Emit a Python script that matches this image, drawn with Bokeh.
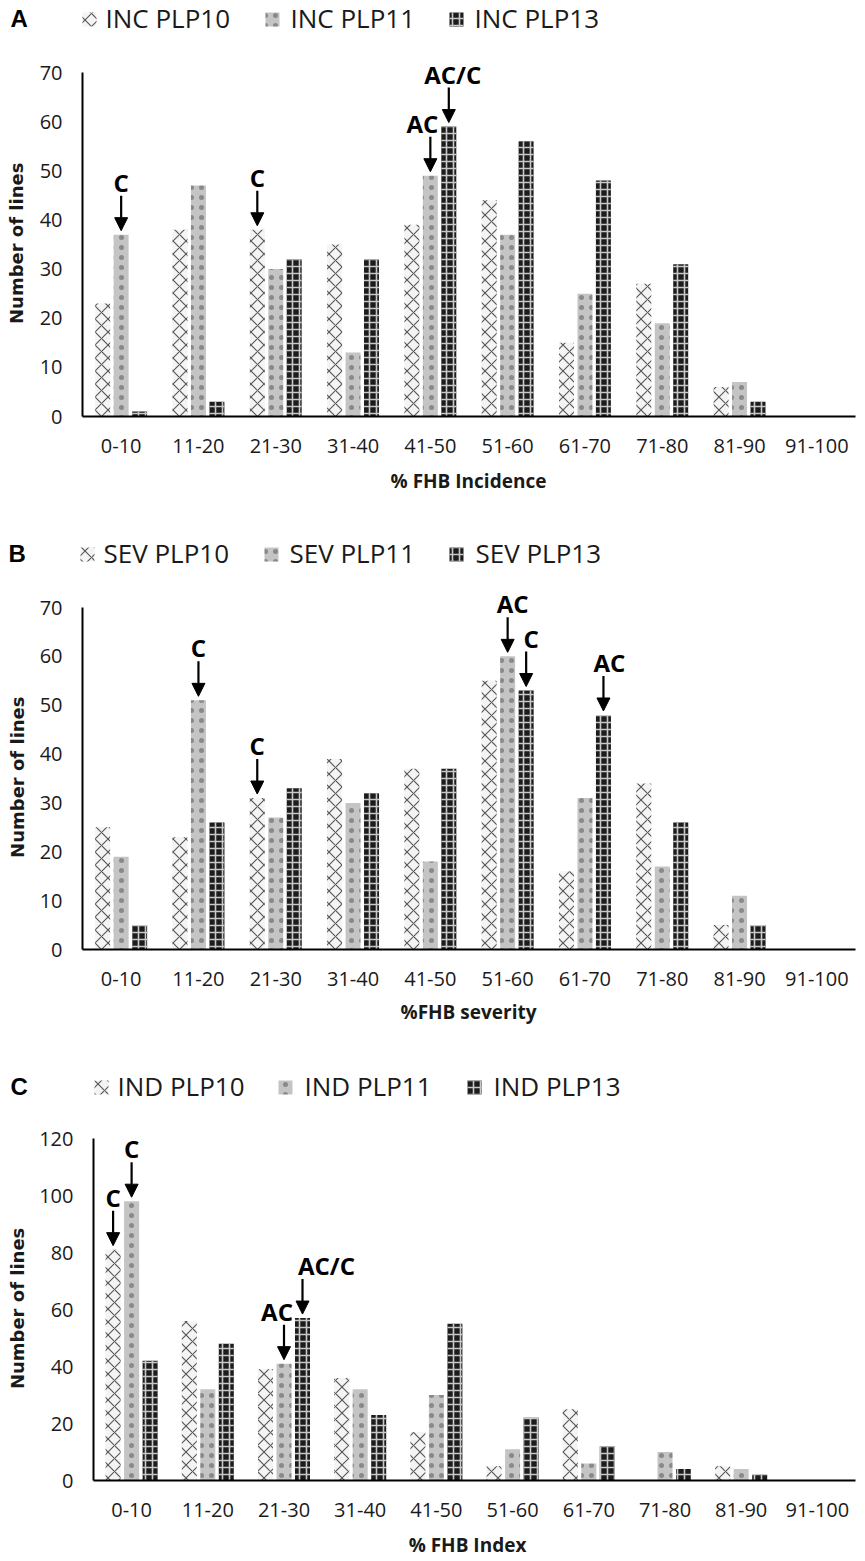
import math
from bokeh.plotting import figure
from bokeh.models import FactorRange, Range1d, FixedTicker, Label, Arrow, NormalHead, ColumnDataSource
from bokeh.layouts import column, row
from bokeh.transform import dodge
from bokeh.core.properties import value
from bokeh.embed import file_html
from bokeh.resources import INLINE

categories = ["0-10", "11-20", "21-30", "31-40", "41-50", "51-60", "61-70", "71-80", "81-90", "91-100"]
series_names = ["PLP10", "PLP11", "PLP13"]

inc_plp10 = [23, 38, 38, 35, 39, 44, 15, 27, 6, 0]
inc_plp11 = [37, 47, 30, 13, 49, 37, 25, 19, 7, 0]
inc_plp13 = [1, 3, 32, 32, 59, 56, 48, 31, 3, 0]

sev_plp10 = [25, 23, 31, 39, 37, 55, 16, 34, 5, 0]
sev_plp11 = [19, 51, 27, 30, 18, 60, 31, 17, 11, 0]
sev_plp13 = [5, 26, 33, 32, 37, 53, 48, 26, 5, 0]

ind_plp10 = [81, 56, 39, 36, 17, 5, 25, 0, 5, 0]
ind_plp11 = [98, 32, 41, 32, 30, 11, 6, 10, 4, 0]
ind_plp13 = [42, 48, 57, 23, 55, 22, 12, 4, 2, 0]

ticks_70 = [0, 10, 20, 30, 40, 50, 60, 70]
ticks_120 = [0, 20, 40, 60, 80, 100, 120]

# (category, series index, text)
inc_marks = [("0-10", 1, "C"), ("21-30", 0, "C"), ("41-50", 1, "AC"), ("41-50", 2, "AC/C")]
sev_marks = [("11-20", 1, "C"), ("21-30", 0, "C"), ("51-60", 1, "AC"), ("51-60", 2, "C"), ("61-70", 2, "AC")]
ind_marks = [("0-10", 0, "C"), ("0-10", 1, "C"), ("21-30", 1, "AC"), ("21-30", 2, "AC/C")]

W = 865          # page width (the page is rendered without body margin)
YL_W = 36        # width of the strip holding the y-axis title
FONT = "Open Sans"
TXT = "#1a1a1a"
BASE_FIX = 0.355  # observed drop of "alphabetic" text below its anchor, in em

STYLES = [
    dict(fill_color="#f4f4f4", hatch_pattern="diagonal_cross", hatch_color="#555555", hatch_scale=13, hatch_weight=1.1),
    dict(fill_color="#c4c4c4", hatch_pattern="dot", hatch_color="#000000", hatch_scale=10, hatch_alpha=0.3),
    dict(fill_color="#1c1c1c", hatch_pattern="cross", hatch_color="#c8c8c8", hatch_scale=7, hatch_weight=1.6),
]


def aux_fig(x0, top, w, h):
    """Plain figure; x data = page pixel, y data = height above its bottom."""
    p = figure(width=w, height=h, x_range=Range1d(x0, x0 + w), y_range=Range1d(0, h),
               output_backend="svg", toolbar_location=None, x_axis_type=None, y_axis_type=None,
               min_border_left=0, min_border_right=0, min_border_top=0, min_border_bottom=0)
    p.outline_line_color = None
    p.background_fill_color = "white"
    return p


def add_text(p, top, h, x, y, text, size, **kw):
    # y is the wanted page baseline
    p.text(x=[x], y=[top + h - (y - BASE_FIX * size)], text=[text], text_baseline="alphabetic",
           text_font_size=value(f"{size}px"), **kw)


def add_header(p, top, h, letter, prefix, g):
    add_text(p, top, h, g["letter_x"], g["leg_y"], letter, 24, text_font=value("Liberation Sans"),
             text_font_style="bold", text_color="black")
    sw = 14
    for i, name in enumerate(series_names):
        p.rect(x=[g["sw_x"][i] + sw / 2], y=[top + h - (g["leg_y"] - 8)], width=sw, height=sw,
               line_color=None, **STYLES[i])
        add_text(p, top, h, g["txt_x"][i], g["leg_y"], f"{prefix} {name}", 26, text_font=value(FONT),
                 text_color=TXT)


def add_xtitle(p, top, h, g, text):
    add_text(p, top, h, g["xt"][0], g["xt"][1], text, 19, text_font=value(FONT), text_font_style="bold",
             text_align="center", text_color=TXT)


def make_chart(vals, marks, ticks, g):
    left, right, top, zero, ymaxpx, H = g["left"], g["right"], g["top"], g["zero"], g["ymaxpx"], g["H"]
    fig_x0 = YL_W
    cw = W - YL_W
    frame_w = right - left
    frame_h = zero - top
    ppu = (zero - ymaxpx) / ticks[-1]
    cat_px = frame_w / len(categories)

    p = figure(x_range=FactorRange(factors=categories), y_range=Range1d(0, frame_h / ppu),
               width=cw, height=H, output_backend="svg", toolbar_location=None,
               min_border_left=left - fig_x0, min_border_right=fig_x0 + cw - right,
               min_border_top=0, min_border_bottom=H - frame_h)
    p.outline_line_color = None
    p.xgrid.visible = False
    p.ygrid.visible = False
    p.background_fill_color = "white"

    for ax in (p.xaxis[0], p.yaxis[0]):
        ax.axis_line_width = 2
        ax.axis_line_color = "black"
        ax.major_tick_line_color = None
        ax.minor_tick_line_color = None
        ax.major_tick_out = 0
        ax.major_tick_in = 0
        ax.minor_tick_out = 0
        ax.major_label_text_font = FONT
        ax.major_label_text_font_size = "20px"
        ax.major_label_text_color = TXT
    p.xaxis.major_label_standoff = 22
    p.yaxis.major_label_standoff = 20
    p.yaxis.ticker = FixedTicker(ticks=ticks)
    p.yaxis.bounds = (0, ticks[-1])

    bw = 15 / cat_px
    step = 18.5 / cat_px
    for i, v in enumerate(vals):
        src = ColumnDataSource(dict(x=categories, top=v))
        p.vbar(x=dodge("x", (i - 1) * step, range=p.x_range), top="top", width=bw, bottom=0,
               source=src, line_color=None, **STYLES[i])

    for (cat, si, txt), ddx in zip(marks, g["mark_dx"]):
        ci = categories.index(cat)
        xc = ci + 0.5 + (si - 1) * step
        v = vals[si][ci]
        tip = v + 4 / ppu
        start = tip + 35 / ppu
        p.add_layout(Arrow(end=NormalHead(size=13, fill_color="black", line_color="black", line_width=1),
                           x_start=xc, y_start=start, x_end=xc, y_end=tip,
                           line_width=2.2, line_color="black"))
        p.add_layout(Label(x=xc + ddx / cat_px, y=start + (5 + BASE_FIX * 24) / ppu, text=txt,
                           text_font=FONT, text_font_style="bold", text_font_size="24px",
                           text_align="center", text_baseline="alphabetic", text_color="black"))

    # y axis title in a narrow strip at the left
    yl = aux_fig(0, top, YL_W, H)
    mid = (zero + ymaxpx) / 2 + g["ylab_dy"]
    yl.text(x=[g["ylab_x"]], y=[top + H - mid], text=["Number of lines"], angle=math.pi / 2,
            text_font=value("DejaVu Sans"), text_font_style="bold", text_font_size=value("18px"),
            text_align="center", text_baseline="middle", text_color=TXT)
    return row(yl, p, spacing=0)


geo_a = dict(left=80, right=855, top=52, zero=416, ymaxpx=72, H=414,
             letter_x=10, sw_x=(82, 265, 449), txt_x=(105, 290, 474), leg_y=27,
             ylab_x=16, ylab_dy=25, xt=(468, 487), mark_dx=(0, 0, -8, 4))
geo_b = dict(left=82, right=855, top=585, zero=949, ymaxpx=607, H=414,
             letter_x=8, sw_x=(80, 264, 449), txt_x=(103, 289, 475), leg_y=562,
             ylab_x=17, ylab_dy=25, xt=(468, 1018), mark_dx=(0, 0, 5, 5, 6))
geo_c = dict(left=93, right=855, top=1120, zero=1480, ymaxpx=1138, H=410,
             letter_x=10, sw_x=(94, 278, 467), txt_x=(117, 304, 493), leg_y=1095,
             ylab_x=17, ylab_dy=25, xt=(467, 1551), mark_dx=(0, 0, -7, 24))

hA = aux_fig(0, 0, W, 52)
add_header(hA, 0, 52, "A", "INC", geo_a)
chart_a = make_chart([inc_plp10, inc_plp11, inc_plp13], inc_marks, ticks_70, geo_a)

gAB = aux_fig(0, 466, W, 119)
add_xtitle(gAB, 466, 119, geo_a, "% FHB Incidence")
add_header(gAB, 466, 119, "B", "SEV", geo_b)
chart_b = make_chart([sev_plp10, sev_plp11, sev_plp13], sev_marks, ticks_70, geo_b)

gBC = aux_fig(0, 999, W, 121)
add_xtitle(gBC, 999, 121, geo_b, "%FHB severity")
add_header(gBC, 999, 121, "C", "IND", geo_c)
chart_c = make_chart([ind_plp10, ind_plp11, ind_plp13], ind_marks, ticks_120, geo_c)

fC = aux_fig(0, 1530, W, 31)
add_xtitle(fC, 1530, 31, geo_c, "% FHB Index")

layout = column(hA, chart_a, gAB, chart_b, gBC, chart_c, fC, spacing=0)
open("out.html", "w").write(file_html(layout, INLINE))
